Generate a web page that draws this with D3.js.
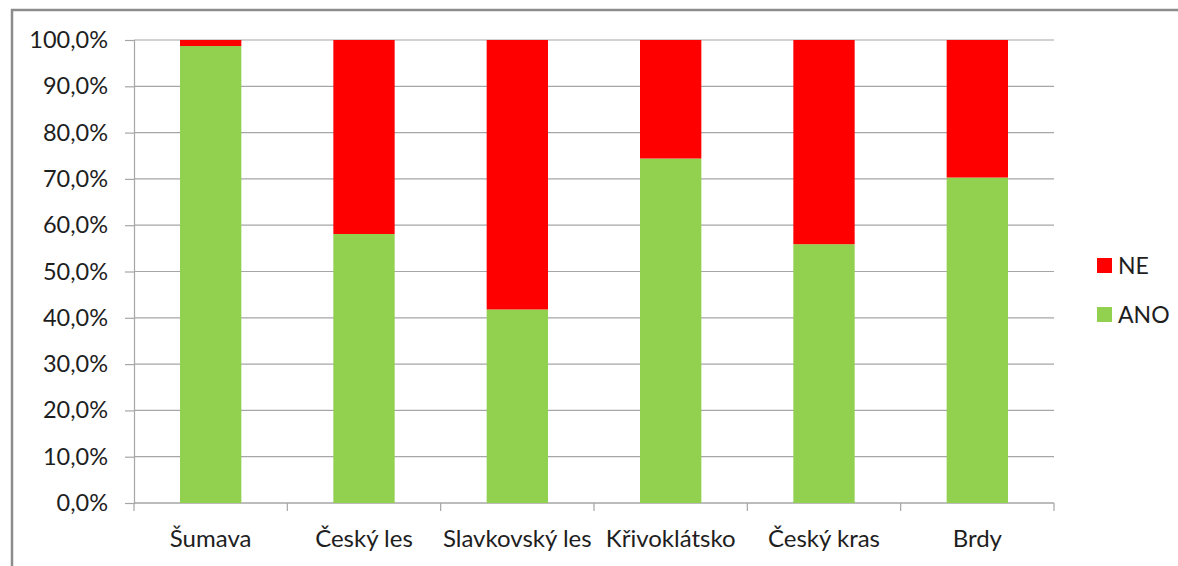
<!DOCTYPE html>
<html>
<head>
<meta charset="utf-8">
<script src="https://cdn.jsdelivr.net/npm/d3@7"></script>
<style>
  body { margin: 0; background: #fff; }
  svg text { font-family: Lato, "Open Sans", sans-serif; fill: #1e1e1e; }
</style>
</head>
<body>
<div id="chart"></div>
<script>
// data
var categories = ["Šumava", "Český les", "Slavkovský les", "Křivoklátsko", "Český kras", "Brdy"];
var ano = [98.7, 58.1, 41.8, 74.4, 55.9, 70.3];
var ne = ano.map(function (v) { return 100 - v; });
var yTicks = [0, 10, 20, 30, 40, 50, 60, 70, 80, 90, 100];

var svg = d3.select("#chart").append("svg").attr("width", 1178).attr("height", 566);

// outer chart frame (only top and left edges are inside the picture)
svg.append("rect").attr("x", 12).attr("y", 10).attr("width", 1200).attr("height", 600)
  .attr("fill", "none").attr("stroke", "#8c8c8c").attr("stroke-width", 2.5);

var x = d3.scaleBand().domain(categories).range([134, 1054]).paddingInner(0.6).paddingOuter(0.3);
var y = d3.scaleLinear().domain([0, 100]).range([503, 40]);

// gridlines
svg.append("g").selectAll("line").data(yTicks).join("line")
  .attr("x1", 134).attr("x2", 1054)
  .attr("y1", function (d) { return y(d); }).attr("y2", function (d) { return y(d); })
  .attr("stroke", "#a6a6a6").attr("stroke-width", 1.2);

// y axis
var yAxis = svg.append("g").attr("transform", "translate(134,0)")
  .call(d3.axisLeft(y).tickValues(yTicks).tickSize(9).tickPadding(17)
    .tickFormat(function (d) { return d.toFixed(1).replace(".", ",") + "%"; }));
yAxis.selectAll("text").attr("font-size", 23.5);
yAxis.select(".domain").attr("stroke", "#a6a6a6").attr("stroke-width", 1.2);
yAxis.selectAll(".tick line").attr("stroke", "#a6a6a6").attr("stroke-width", 1.2);

// x axis with ticks between categories
var xAxis = svg.append("g").attr("transform", "translate(0,503)");
xAxis.append("line").attr("x1", 134).attr("x2", 1054).attr("stroke", "#a6a6a6").attr("stroke-width", 1.2);
xAxis.selectAll(".tk").data(d3.range(categories.length + 1)).join("line")
  .attr("x1", function (i) { return 134 + i * (920 / categories.length); })
  .attr("x2", function (i) { return 134 + i * (920 / categories.length); })
  .attr("y1", 0).attr("y2", 8).attr("stroke", "#a6a6a6").attr("stroke-width", 1.2);
xAxis.selectAll("text").data(categories).join("text")
  .attr("x", function (d) { return x(d) + x.bandwidth() / 2; })
  .attr("y", 44).attr("text-anchor", "middle").attr("font-size", 24)
  .text(function (d) { return d; });

// stacked bars
svg.append("g").selectAll("rect").data(categories).join("rect")
  .attr("x", function (d) { return x(d); })
  .attr("width", x.bandwidth())
  .attr("y", function (d, i) { return y(ano[i]); })
  .attr("height", function (d, i) { return y(0) - y(ano[i]); })
  .attr("fill", "#92d050");
svg.append("g").selectAll("rect").data(categories).join("rect")
  .attr("x", function (d) { return x(d); })
  .attr("width", x.bandwidth())
  .attr("y", function (d, i) { return y(ano[i] + ne[i]); })
  .attr("height", function (d, i) { return y(ano[i]) - y(ano[i] + ne[i]); })
  .attr("fill", "#ff0000");

// legend
var legend = [{ name: "NE", color: "#ff0000", cy: 266 }, { name: "ANO", color: "#92d050", cy: 315 }];
var lg = svg.append("g").selectAll("g").data(legend).join("g");
lg.append("rect").attr("x", 1097).attr("y", function (d) { return d.cy - 8; })
  .attr("width", 15).attr("height", 15).attr("fill", function (d) { return d.color; });
lg.append("text").attr("x", 1118).attr("y", function (d) { return d.cy; })
  .attr("dy", "0.36em").attr("font-size", 23).text(function (d) { return d.name; });
</script>
</body>
</html>
